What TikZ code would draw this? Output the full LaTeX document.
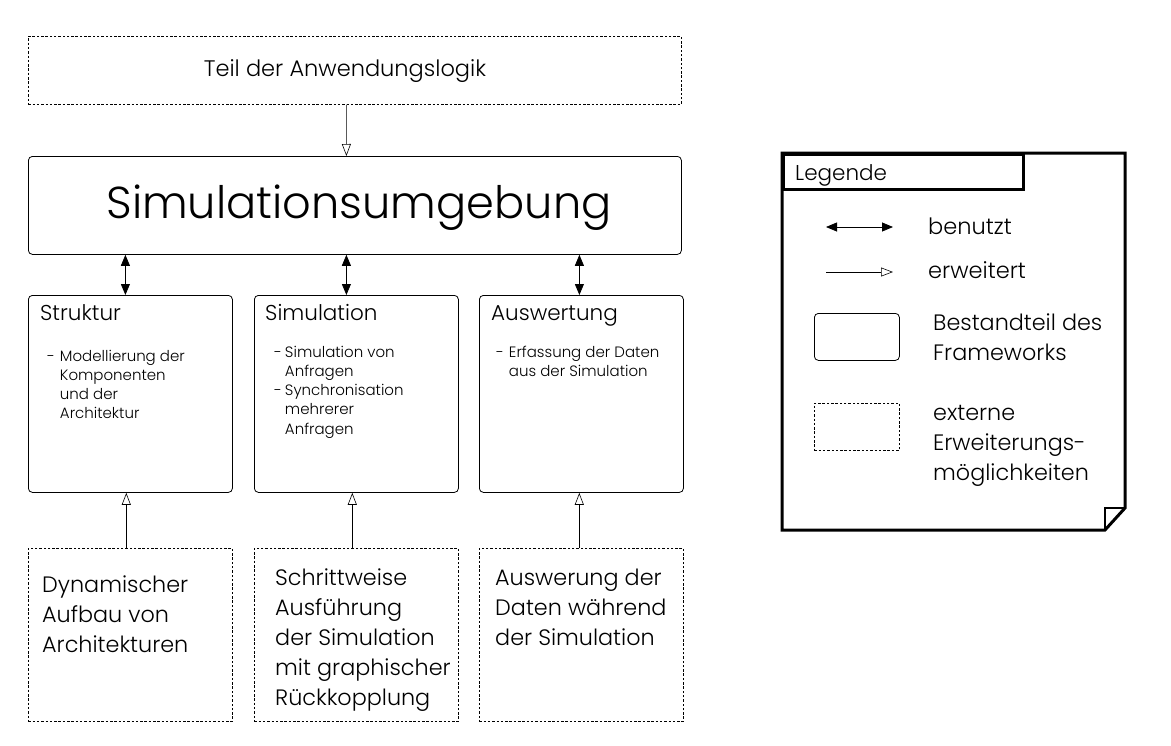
\documentclass[tikz,border=0pt]{standalone}
\usepackage{fontspec}
\setmainfont{Poppins}[UprightFont=* Light]
\usetikzlibrary{arrows.meta,calc}
\begin{document}
\begin{tikzpicture}[x=1pt,y=-1pt,
  fwbox/.style={draw, line width=0.8pt, rounded corners=4pt, anchor=north west, inner sep=0pt},
  extbox/.style={draw, line width=0.6pt, dash pattern=on 2.5pt off 1.8pt, anchor=north west, inner sep=0pt},
  uses/.style={line width=0.8pt, {Triangle[width=9pt,length=11pt]}-{Triangle[width=9pt,length=11pt]}},
  ext/.style={line width=0.6pt, -{Triangle[open,width=9pt,length=12pt]}},
  lbl/.style={anchor=base west, inner sep=0pt, align=left},
  title/.style={lbl, font=\fontsize{21.5}{24}\selectfont},
  small/.style={lbl, font=\fontsize{15}{19.3}\selectfont},
  big/.style={lbl, font=\fontsize{22.3}{30}\selectfont},
]
\useasboundingbox (0,0) rectangle (1171,745);
\fill[white] (0,0) rectangle (1171,745);

% top external box
\node[extbox, minimum width=653pt, minimum height=68pt] (logik) at (28,36) {};
\node[anchor=center, inner sep=0pt, font=\fontsize{22.5}{26}\selectfont] (logiktxt) at (345,71) {Teil der Anwendungslogik};

% simulation environment
\node[fwbox, minimum width=653pt, minimum height=98pt] (simenv) at (28,156) {};
\node[anchor=center, inner sep=0pt, font=\fontsize{44.7}{50}\selectfont] (simenvtxt) at (359,208) {Simulationsumgebung};

% middle boxes
\node[fwbox, minimum width=204pt, minimum height=197pt] (struk) at (28,295) {};
\node[fwbox, minimum width=204pt, minimum height=197pt] (simu) at (254,295) {};
\node[fwbox, minimum width=204pt, minimum height=197pt] (ausw) at (479,295) {};

\node[title] (struktitle) at (40,320) {Struktur};
\node[title] (simutitle) at (265,320) {Simulation};
\node[title] (auswtitle) at (491,320) {Auswertung};

\node[small] (struktxt) at (47,361) {\begin{tabular}[t]{@{}l@{\hspace{5pt}}l@{}}-&Modellierung der\\&Komponenten\\&und der\\&Architektur\end{tabular}};
\node[small] (simutxt) at (274,357) {\begin{tabular}[t]{@{}l@{\hspace{3pt}}l@{}}-&Simulation von\\&Anfragen\\-&Synchronisation\\&mehrerer\\&Anfragen\end{tabular}};
\node[small] (auswtxt) at (496,357) {\begin{tabular}[t]{@{}l@{\hspace{5pt}}l@{}}-&Erfassung der Daten\\&aus der Simulation\end{tabular}};

% bottom external boxes
\node[extbox, minimum width=204pt, minimum height=173pt] (dyn) at (28,548) {};
\node[extbox, minimum width=204pt, minimum height=173pt] (schritt) at (254,548) {};
\node[extbox, minimum width=204pt, minimum height=173pt] (ausext) at (479,548) {};

\node[big] (dyntxt) at (42,592) {\begin{tabular}[t]{@{}l@{}}Dynamischer\\Aufbau von\\Architekturen\end{tabular}};
\node[big] (schritttxt) at (275,585) {\begin{tabular}[t]{@{}l@{}}Schrittweise\\Ausführung\\der Simulation\\mit graphischer\\Rückkopplung\end{tabular}};
\node[big] (ausexttxt) at (495,585) {\begin{tabular}[t]{@{}l@{}}Auswerung der\\Daten während\\der Simulation\end{tabular}};

% connectors
\draw[ext] ($(logik.south)+(-8.5,0)$) -- ($(simenv.north)+(-8.5,0)$);
\coordinate (c1) at ($(struk.north)+(-5,0)$);
\coordinate (c2) at ($(simu.north)+(-10,0)$);
\coordinate (c3) at ($(ausw.north)+(-2,0)$);
\draw[uses] (c1 |- simenv.south) -- (c1);
\draw[uses] (c2 |- simenv.south) -- (c2);
\draw[uses] (c3 |- simenv.south) -- (c3);
\coordinate (d1) at ($(dyn.north)+(-4,0)$);
\coordinate (d2) at ($(schritt.north)+(-4,0)$);
\coordinate (d3) at ($(ausext.north)+(-2,0)$);
\draw[ext] (d1) -- (d1 |- struk.south);
\draw[ext] (d2) -- (d2 |- simu.south);
\draw[ext] (d3) -- (d3 |- ausw.south);

% legend
\draw[line width=3pt, line join=miter] (782,153) -- (1125,153) -- (1125,508) -- (1105,530) -- (782,530) -- cycle;
\draw[line width=2pt] (1105,530) -- (1105,508) -- (1125,508);
\node[draw, line width=3pt, anchor=north west, inner sep=0pt, minimum width=240pt, minimum height=35pt] (lhead) at (782,153) {};
\node[lbl, font=\fontsize{21.5}{24}\selectfont] (lheadtxt) at (795,180) {Legende};

\coordinate (u1) at (826,227);
\coordinate (u2) at (893,227);
\draw[uses] (u1) -- (u2);
\node[lbl, font=\fontsize{22.5}{26}\selectfont] (usestxt) at (928,234) {benutzt};
\coordinate (e1) at (826,272);
\coordinate (e2) at (893,272);
\draw[ext] (e1) -- (e2);
\node[lbl, font=\fontsize{22.5}{26}\selectfont] (exttxt) at (928,278) {erweitert};
\node[fwbox, minimum width=85pt, minimum height=47pt] (lfw) at (814,313) {};
\node[big] (lfwtxt) at (933,330) {\begin{tabular}[t]{@{}l@{}}Bestandteil des\\Frameworks\end{tabular}};
\node[extbox, minimum width=85pt, minimum height=47pt] (lext) at (814,403) {};
\node[big] (lexttxt) at (933,420) {\begin{tabular}[t]{@{}l@{}}externe\\Erweiterungs-\\möglichkeiten\end{tabular}};
\end{tikzpicture}
\end{document}
